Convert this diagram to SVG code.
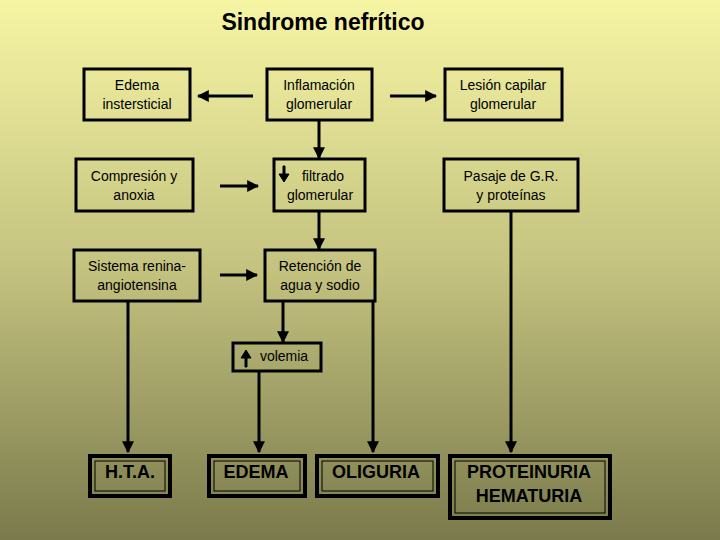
<svg xmlns="http://www.w3.org/2000/svg" width="720" height="540" viewBox="0 0 720 540">
<defs>
<linearGradient id="bg" x1="0" y1="0" x2="0" y2="1">
<stop offset="0" stop-color="#f6f5a4"/>
<stop offset="0.5" stop-color="#c3c27f"/>
<stop offset="1" stop-color="#7a7a4c"/>
</linearGradient>
<marker id="ah" viewBox="0 0 10 10" refX="9" refY="5" markerWidth="4" markerHeight="4" orient="auto"><path d="M0,0L10,5L0,10z" fill="#000"/></marker>
<style>
.b{fill:none;stroke:#000;stroke-width:3}
.t{font-family:"Liberation Sans",Arial,sans-serif;font-size:14px;fill:#000;text-anchor:middle}
.B{font-family:"Liberation Sans",Arial,sans-serif;font-size:18px;font-weight:bold;fill:#000;text-anchor:middle}
.c{stroke:#000;stroke-width:3;fill:none;marker-end:url(#ah)}
.o{fill:none;stroke:#000;stroke-width:4}
.i{fill:none;stroke:#000;stroke-width:1}
</style>
</defs>
<rect width="720" height="540" fill="url(#bg)"/>
<text x="323" y="30" font-family="Liberation Sans,Arial,sans-serif" font-size="23" font-weight="bold" text-anchor="middle">Sindrome nefrítico</text>
<g id="n1"><rect class="b" x="84" y="69" width="106" height="51"/><text class="t" x="137" y="90">Edema</text><text class="t" x="137" y="109">instersticial</text></g>
<g id="n2"><rect class="b" x="267" y="69" width="105" height="51"/><text class="t" x="319" y="90">Inflamación</text><text class="t" x="319" y="109">glomerular</text></g>
<g id="n3"><rect class="b" x="445" y="69" width="117" height="51"/><text class="t" x="503" y="90">Lesión capilar</text><text class="t" x="503" y="109">glomerular</text></g>
<g id="n4"><rect class="b" x="76" y="159" width="117" height="52"/><text class="t" x="134" y="181">Compresión y</text><text class="t" x="134" y="200">anoxia</text></g>
<g id="n5"><rect class="b" x="274" y="159" width="91" height="52"/><text class="t" x="323" y="181">filtrado</text><text class="t" x="320" y="200">glomerular</text><path d="M283,166v8h-4l5,8l5,-8h-4v-8z" fill="#000" stroke="#000" stroke-width="1"/></g>
<g id="n6"><rect class="b" x="444" y="159" width="134" height="52"/><text class="t" x="511" y="181">Pasaje de G.R.</text><text class="t" x="511" y="200">y proteínas</text></g>
<g id="n7"><rect class="b" x="74" y="250" width="126" height="51"/><text class="t" x="137" y="271">Sistema renina-</text><text class="t" x="137" y="290">angiotensina</text></g>
<g id="n8"><rect class="b" x="265" y="250" width="110" height="51"/><text class="t" x="320" y="271">Retención de</text><text class="t" x="320" y="290">agua y sodio</text></g>
<g id="n9"><rect class="b" x="233" y="343" width="88" height="28"/><text class="t" x="284" y="361">volemia</text><path d="M245,367v-9h-4l5,-8l5,8h-4v9z" fill="#000" stroke="#000" stroke-width="1"/></g>
<g id="n10"><rect class="o" x="90" y="456" width="80" height="40"/><rect class="i" x="95" y="461" width="70" height="30"/><text class="B" x="130" y="478" font-size="17">H.T.A.</text></g>
<g id="n11"><rect class="o" x="209" y="456" width="96" height="40"/><rect class="i" x="214" y="461" width="86" height="30"/><text class="B" x="256" y="478" font-size="17">EDEMA</text></g>
<g id="n12"><rect class="o" x="317" y="456" width="121" height="40"/><rect class="i" x="322" y="461" width="111" height="30"/><text class="B" x="376" y="478" font-size="17">OLIGURIA</text></g>
<g id="n13"><rect class="o" x="450" y="456" width="160" height="62"/><rect class="i" x="455" y="461" width="150" height="52"/><text class="B" x="529" y="478" font-size="17">PROTEINURIA</text><text class="B" x="529" y="502" font-size="17">HEMATURIA</text></g>
<g id="connectors">
<path class="c" d="M253,96H198"/>
<path class="c" d="M390,96H436"/>
<path class="c" d="M220,186H258"/>
<path class="c" d="M220,275H257"/>
<path class="c" d="M319,121V158"/>
<path class="c" d="M319,212V249"/>
<path class="c" d="M283,302V342"/>
<path class="c" d="M373,302V452"/>
<path class="c" d="M259,372V452"/>
<path class="c" d="M128,302V452"/>
<path class="c" d="M511,212V452"/>
</g>
</svg>
